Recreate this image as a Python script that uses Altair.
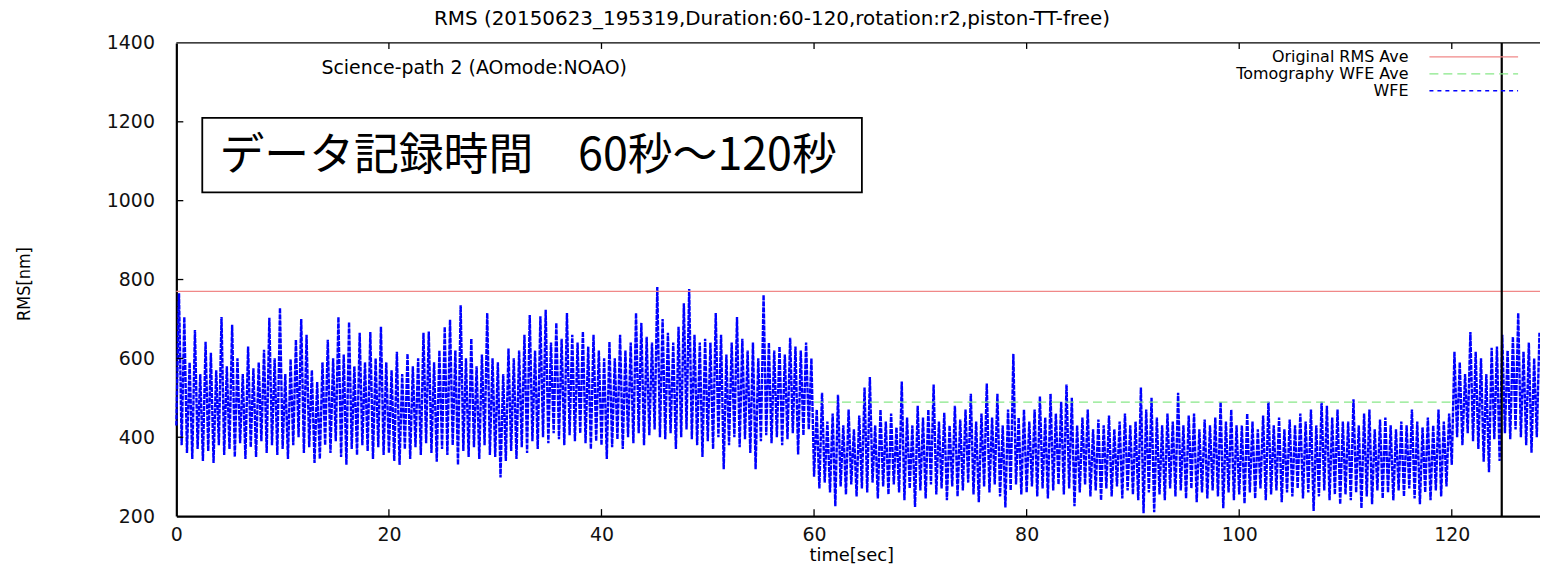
import altair as alt
import pandas as pd

# ---------------- texts ----------------
TITLE = "RMS (20150623_195319,Duration:60-120,rotation:r2,piston-TT-free)"
SUBTITLE = "Science-path 2 (AOmode:NOAO)"
NOTE = "データ記録時間\u300060秒～120秒"
X_TITLE = "time[sec]"
Y_TITLE = "RMS[nm]"
legend_labels = ["Original RMS Ave", "Tomography WFE Ave", "WFE"]

# ---------------- axes ----------------
x_ticks = [0, 20, 40, 60, 80, 100, 120]
y_ticks = [200, 400, 600, 800, 1000, 1200, 1400]
x_domain = [0, 128.3]
y_domain = [200, 1400]

# ---------------- reference levels ----------------
original_rms_ave = [770]
tomo_wfe_ave = [489]
tomo_span = [60, 120]
marker_time = [124.7]

# note box (data coordinates)
note_box_x = [2.44, 64.5]
note_box_y = [1021, 1210]
note_pos = [33.1, 1112]

# ---------------- WFE samples (every 0.25 s) ----------------
sample_step = 0.25
wfe_000 = [430, 765, 380, 705, 360, 590, 345, 672, 370, 560, 340, 642, 365, 614, 335, 570, 380, 705, 355, 580,
           370, 685, 350, 600, 385, 560, 345, 630, 375, 575, 350, 590, 390, 622, 360, 703, 380, 600, 355, 728]
wfe_010 = [370, 560, 345, 598, 380, 647, 400, 700, 360, 660, 375, 570, 335, 540, 345, 590, 380, 647, 360, 600,
           390, 705, 350, 610, 330, 692, 370, 580, 355, 665, 380, 590, 365, 667, 345, 600, 375, 680, 355, 590]
wfe_020 = [360, 570, 340, 617, 330, 560, 370, 612, 345, 580, 375, 600, 355, 665, 385, 668, 360, 590, 338, 620,
           370, 680, 355, 698, 380, 620, 330, 735, 365, 600, 350, 650, 375, 580, 345, 610, 380, 715, 355, 600]
wfe_030 = [350, 590, 298, 560, 340, 625, 365, 600, 345, 620, 375, 660, 360, 710, 390, 620, 370, 707, 400, 723,
           385, 640, 410, 690, 395, 650, 380, 715, 405, 660, 390, 640, 410, 668, 385, 630, 370, 660, 390, 620]
wfe_040 = [380, 600, 345, 642, 375, 600, 395, 660, 370, 620, 400, 640, 385, 715, 410, 690, 380, 655, 405, 640,
           420, 781, 400, 700, 395, 665, 410, 640, 370, 680, 400, 740, 420, 776, 395, 660, 380, 640, 350, 650]
wfe_050 = [390, 640, 370, 715, 400, 660, 319, 610, 380, 640, 400, 705, 375, 650, 395, 620, 360, 640, 319, 600,
           390, 761, 405, 640, 385, 620, 400, 630, 380, 610, 395, 652, 410, 630, 356, 620, 405, 640, 420, 600]
wfe_060 = [300, 470, 270, 513, 285, 440, 260, 460, 225, 508, 275, 430, 255, 470, 280, 420, 250, 455, 270, 526,
           260, 553, 285, 430, 245, 470, 275, 440, 255, 460, 280, 425, 260, 541, 240, 450, 270, 430, 223, 480]
wfe_070 = [265, 450, 245, 470, 280, 534, 255, 440, 270, 462, 240, 430, 275, 480, 250, 445, 265, 470, 285, 510,
           255, 440, 235, 460, 275, 536, 260, 450, 280, 510, 250, 430, 222, 470, 265, 612, 280, 450, 255, 470]
wfe_080 = [260, 440, 275, 470, 250, 503, 270, 450, 245, 510, 265, 460, 280, 490, 255, 534, 270, 500, 225, 430,
           260, 450, 280, 470, 250, 420, 265, 445, 240, 430, 270, 455, 250, 420, 275, 440, 245, 460, 265, 430]
wfe_090 = [255, 440, 240, 526, 207, 470, 260, 500, 210, 450, 255, 430, 240, 460, 270, 440, 250, 513, 265, 430,
           245, 455, 270, 460, 235, 420, 260, 445, 245, 430, 265, 450, 250, 490, 220, 440, 260, 470, 240, 430]
wfe_100 = [255, 430, 232, 460, 260, 440, 245, 420, 270, 455, 240, 490, 255, 430, 265, 450, 235, 420, 260, 445,
           250, 430, 270, 460, 245, 440, 260, 470, 213, 430, 250, 490, 265, 480, 240, 450, 255, 470, 230, 440]
wfe_110 = [255, 440, 240, 496, 260, 430, 220, 460, 250, 470, 230, 420, 265, 445, 245, 450, 260, 430, 240, 420,
           265, 440, 250, 430, 270, 470, 245, 440, 230, 425, 260, 450, 240, 430, 265, 470, 250, 440, 275, 460]
wfe_120 = [330, 617, 400, 590, 380, 560, 410, 667, 390, 617, 370, 600, 338, 560, 311, 627, 395, 630, 340, 660,
           410, 620, 395, 655, 420, 715, 400, 617, 380, 640, 361, 600, 400, 665]

wfe = (wfe_000 + wfe_010 + wfe_020 + wfe_030 + wfe_040 + wfe_050 + wfe_060 +
       wfe_070 + wfe_080 + wfe_090 + wfe_100 + wfe_110 + wfe_120)
time = [i * sample_step for i in range(len(wfe))]

# ---------------- layout ----------------
W, H = 1369, 475
FONT = "DejaVu Sans"
BLACK = "#000000"
RED = "#f08888"
GREEN = "#88e888"
BLUE = "#0000ff"

xs = alt.Scale(domain=x_domain, nice=False, zero=False)
ys = alt.Scale(domain=y_domain, nice=False, zero=False)
X_AX = alt.Axis(values=x_ticks, title=None, format="d", labelPadding=9, labelBaseline="top",
                labelFlush=False, domain=True, ticks=False, grid=False)
Y_AX = alt.Axis(values=y_ticks, title=None, format="d", labelPadding=22, labelFlush=False,
                domain=True, ticks=False, grid=False)


def X(field):
    return alt.X(field, scale=xs, axis=X_AX)


def Y(field):
    return alt.Y(field, scale=ys, axis=Y_AX)


df_wfe = pd.DataFrame({"t": time, "rms": wfe})

wfe_line = alt.Chart(df_wfe).mark_line(color=BLUE, strokeWidth=2.4, strokeDash=[5, 1]).encode(
    x=X("t:Q"), y=Y("rms:Q"))

red_line = alt.Chart(pd.DataFrame({"v": original_rms_ave})).mark_rule(
    color=RED, strokeWidth=1.3).encode(y=Y("v:Q"))

green_line = alt.Chart(pd.DataFrame({"a": [tomo_span[0]], "b": [tomo_span[1]], "v": tomo_wfe_ave})).mark_rule(
    color=GREEN, strokeWidth=1.3, strokeDash=[9, 5]).encode(x=X("a:Q"), x2="b:Q", y=Y("v:Q"))

marker = alt.Chart(pd.DataFrame({"t": marker_time})).mark_rule(
    color=BLACK, strokeWidth=2.2).encode(x=X("t:Q"))

top_border = alt.Chart(pd.DataFrame({"v": [y_domain[1]]})).mark_rule(
    color=BLACK, strokeWidth=1.3).encode(y=Y("v:Q"))

df_yt = pd.DataFrame({"v": y_ticks[1:-1]})
y_tick_marks = alt.Chart(df_yt).mark_rule(color=BLACK, strokeWidth=1.3).encode(
    y=Y("v:Q"), x=alt.value(0), x2=alt.value(7))

df_xt = pd.DataFrame({"v": x_ticks[1:]})
x_tick_bottom = alt.Chart(df_xt).mark_rule(color=BLACK, strokeWidth=1.3).encode(
    x=X("v:Q"), y=alt.value(H), y2=alt.value(H - 7))
x_tick_top = alt.Chart(df_xt).mark_rule(color=BLACK, strokeWidth=1.3).encode(
    x=X("v:Q"), y=alt.value(0), y2=alt.value(6))

note_box = alt.Chart(pd.DataFrame({"x1": [note_box_x[0]], "x2": [note_box_x[1]],
                                   "y1": [note_box_y[0]], "y2": [note_box_y[1]]})).mark_rect(
    fill="white", stroke=BLACK, strokeWidth=1.8).encode(
    x=X("x1:Q"), x2="x2:Q", y=Y("y1:Q"), y2="y2:Q")

note_text = alt.Chart(pd.DataFrame({"x": [note_pos[0]], "y": [note_pos[1]], "s": [NOTE]})).mark_text(
    font="Noto Sans CJK JP", fontSize=45, color=BLACK, align="center", baseline="middle").encode(
    x=X("x:Q"), y=Y("y:Q"), text="s:N")


def label(txt, x, y, size=19, align="center", angle=0, font=FONT):
    return alt.Chart(pd.DataFrame({"s": [txt]})).mark_text(
        font=font, fontSize=size, color=BLACK, align=align, baseline="middle", angle=angle).encode(
        x=alt.value(x), y=alt.value(y), text="s:N")


texts = [
    label(TITLE, 598, -24, size=20),
    label(SUBTITLE, 299, 25, size=19),
    label(X_TITLE, 678, 515, size=18),
    label(Y_TITLE, -152, 242, size=18, angle=270,
          font="Liberation Sans Narrow, DejaVu Sans Condensed, Liberation Sans"),
]

legend_styles = [
    dict(color=RED, strokeWidth=1.3),
    dict(color=GREEN, strokeWidth=1.3, strokeDash=[9, 5]),
    dict(color=BLUE, strokeWidth=1.3, strokeDash=[4, 4]),
]
legend_layers = []
for i, (lab, sty) in enumerate(zip(legend_labels, legend_styles)):
    ry = 14 + 17 * i
    legend_layers.append(label(lab, 1237, ry, size=16, align="right"))
    legend_layers.append(
        alt.Chart(pd.DataFrame({"s": [lab]})).mark_rule(**sty).encode(
            x=alt.value(1258), x2=alt.value(1347), y=alt.value(ry)))

chart = alt.layer(
    wfe_line, red_line, green_line, marker, top_border,
    y_tick_marks, x_tick_bottom, x_tick_top,
    note_box, note_text, *texts, *legend_layers
).properties(
    width=W, height=H,
    autosize=alt.AutoSizeParams(type="none"),
    padding={"left": 169, "top": 34, "right": 0, "bottom": 49},
    background="white",
).configure_view(stroke=None).configure_axis(
    domainColor=BLACK, domainWidth=2.2, grid=False,
    labelFont=FONT, labelFontSize=19, labelColor="#111111",
)

chart.save("out.html", embed_options={"renderer": "svg", "actions": False})
